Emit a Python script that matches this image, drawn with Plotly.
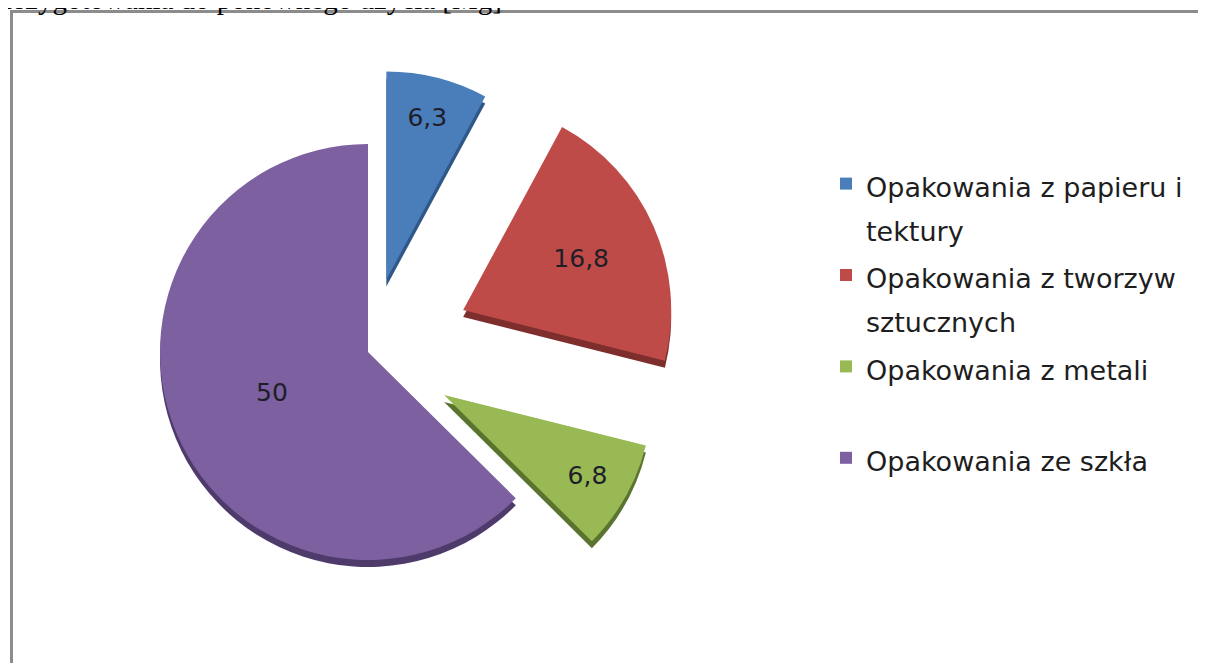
import plotly.graph_objects as go

# ---- data ----
categories = [
    ["Opakowania z papieru i", "tektury"],
    ["Opakowania z tworzyw", "sztucznych"],
    ["Opakowania z metali", " "],
    ["Opakowania ze szkła"],
]
values = [6.3, 16.8, 6.8, 50]
value_labels = [str(v).replace(".", ",") for v in values]
title_text = "przygotowania do ponownego użycia [Mg]"

colors = ["#4a7ebb", "#be4b48", "#98b954", "#7d60a0"]
shadow_colors = ["#2f5788", "#7e2f2d", "#5a7430", "#4f3b6b"]
pulls = [0.36, 0.5, 0.42, 0]

LEG_TXT = 27    # visible legend text size
LEG_LINE = 34   # legend base font (sets line spacing)
labels = [
    "<br>".join(f'<span style="font-size:{LEG_TXT}px">{ln}</span>' for ln in c)
    for c in categories
]

W, H = 1206, 663
OFF = 8                    # page body margin offset
cx, cy = 368 - OFF, 352 - OFF   # pixel centre of the pie
box = 624                  # pie domain size in px
shadow_dy = 7


def dom(dy=0):
    y0 = max(0.0, 1 - (cy + dy + box / 2) / H)
    y1 = min(1.0, 1 - (cy + dy - box / 2) / H)
    return dict(x=[(cx - box / 2) / W, (cx + box / 2) / W], y=[y0, y1])


fig = go.Figure()

# 3D depth (shadow) under the pie
fig.add_trace(go.Pie(
    labels=labels, values=values, sort=False, direction="clockwise",
    rotation=0, pull=pulls, domain=dom(shadow_dy),
    marker=dict(colors=shadow_colors, line=dict(width=0)),
    textinfo="none", showlegend=False, hoverinfo="skip",
))

fig.add_trace(go.Pie(
    labels=labels, values=values, sort=False, direction="clockwise",
    rotation=0, pull=pulls, domain=dom(0),
    marker=dict(colors=colors, line=dict(width=0)),
    text=value_labels, textinfo="text", textposition="inside",
    insidetextorientation="horizontal",
    textfont=dict(family="DejaVu Sans", size=25, color="#1e1e28"),
    showlegend=True,
))

fig.add_shape(
    type="rect", xref="paper", yref="paper",
    x0=(11.5 - OFF) / W, x1=1.05, y0=-0.05, y1=1 - (11.5 - OFF) / H,
    line=dict(color="#8c8c8c", width=3), layer="below",
)

fig.add_annotation(
    text=title_text, xref="paper", yref="paper", x=-(OFF + 1) / W, y=1 - 9 / H,
    xanchor="left", yanchor="bottom", showarrow=False,
    font=dict(family="Liberation Serif", size=29, color="#000000"),
)

fig.update_layout(
    width=W, height=H,
    margin=dict(l=0, r=0, t=0, b=0),
    paper_bgcolor="white", plot_bgcolor="white",
    legend=dict(
        x=(826 - OFF) / W, xanchor="left", y=1 - (155 - OFF) / H, yanchor="top",
        valign="top", traceorder="normal",
        font=dict(family="DejaVu Sans", size=LEG_LINE, color="#1e1e1e"),
        bgcolor="rgba(0,0,0,0)",
    ),
)

fig.write_html("out.html")
